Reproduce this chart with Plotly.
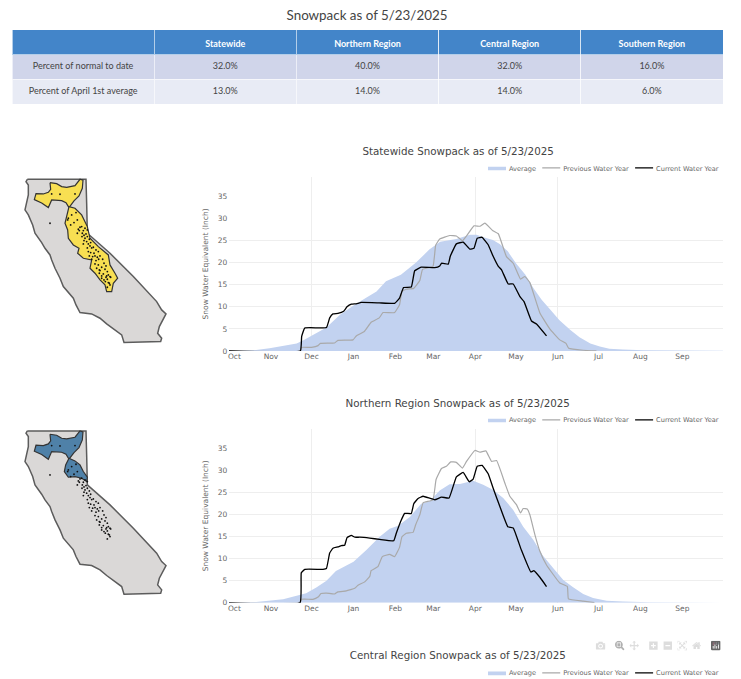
import plotly.graph_objects as go

# page was photographed at 60% of the size plotly laid it out at
SCALE = 0.6
WIDTH = 741
HEIGHT = 692  # a bit taller than the window so the last legend doesn't push the margins

months = ['Oct', 'Nov', 'Dec', 'Jan', 'Feb', 'Mar', 'Apr', 'May', 'Jun', 'Jul', 'Aug', 'Sep']
month_days = [4, 31, 61, 92, 123, 151, 182, 212, 243, 273, 304, 335]
grid_days = [61, 182, 243]
y_ticks = [0, 5, 10, 15, 20, 25, 30, 35]
y_grid = [5, 10, 15, 20, 25]

table_head = ['', 'Statewide', 'Northern Region', 'Central Region', 'Southern Region']
table_rows = ['Percent of normal to date', 'Percent of April 1st average']
table_statewide = ['32.0%', '13.0%']
table_northern = ['40.0%', '14.0%']
table_central = ['32.0%', '14.0%']
table_southern = ['16.0%', '6.0%']

# statewide, x is days since Oct 1
state_avg_days = [0, 20, 30, 40, 50, 55, 61, 72, 82, 92, 101, 109, 116, 127, 138, 148, 156, 168, 178,
                  183, 188, 195, 200, 206, 212, 219, 225, 231, 237, 244, 252, 259, 267, 274, 281, 291, 306, 335, 365]
state_avg = [0, 0.2, 0.6, 1.1, 1.7, 2.4, 3.4, 5.3, 8.2, 10.3, 12, 13.5, 15.8, 17.3, 20, 23, 24.8, 25.4, 26.4,
             26.4, 25.8, 25.2, 24.3, 22.6, 19.9, 17.3, 14.2, 11.6, 9.5, 7, 4.8, 3.1, 1.7, 1, 0.5, 0.3, 0.15, 0.05, 0.03]
state_cur_days = [0, 52.7, 53.7, 56, 72, 74.4, 76.8, 80.5, 84.7, 87.2, 90.4, 94, 97.8, 111, 122.4, 126, 129,
                  134.7, 137.2, 142, 152, 155.7, 157, 162, 163.5, 168, 173, 178, 181, 183.4, 187, 191.5, 195,
                  199, 201.4, 206.3, 210, 215, 218, 223.5, 227.2, 234.6]
state_cur = [0, 0, 3.3, 5.2, 5.3, 7.5, 8.4, 8.5, 9, 10, 10.6, 10.7, 11, 10.9, 10.8, 12, 14.4,
             14.5, 18.2, 19, 18.9, 19.3, 19.9, 19.7, 21.5, 24.3, 24.7, 23.1, 23.3, 25.6, 25.8, 24.1, 21.6,
             19.2, 18.4, 15.2, 15.2, 12.3, 11.2, 6.8, 6.1, 3.4]
state_prev_days = [0, 52.7, 53.5, 61, 65.8, 67.5, 78, 80.5, 91.6, 94, 100, 105, 111, 113.8, 122.4, 126, 127.8,
                   131, 136.5, 141, 143, 150.7, 152.7, 155.7, 163, 168, 172.5, 175.5, 181, 185.4, 189, 195,
                   199, 205, 210, 215.4, 218.6, 222.3, 229.7, 237, 244.4, 249, 251, 261.7, 271.5]
state_prev = [0, 0, 0.8, 0.8, 1.2, 1.7, 1.8, 2.4, 2.5, 3.4, 4.4, 6.5, 7.5, 8.7, 8.7, 10.5, 13.5,
              14, 14.2, 16, 18.5, 19.2, 24, 25.4, 26.2, 26.1, 25, 26.1, 28.4, 28.3, 29, 27.3,
              26.6, 21.4, 19.9, 16.3, 16.9, 15.5, 8.6, 5, 2.5, 1.7, 0.6, 0.15, 0]

# northern region
north_avg_days = [0, 20, 40, 50, 57, 64.5, 72, 79, 92, 101.5, 111.3, 118.7, 125, 133.6, 142, 148, 155.7, 163, 170.6,
                  180.4, 187.8, 195, 202.6, 210, 217.4, 224.8, 232, 239.5, 247, 254, 261.7, 269, 279, 291, 311, 365]
north_avg = [0, 0.2, 0.8, 1.6, 2.2, 3.5, 5, 7.2, 9.3, 12, 15, 16.8, 17.5, 19.5, 22.5, 23, 25.5, 26.9, 27,
             27.7, 26.8, 25.7, 23.8, 21.1, 17.3, 14.3, 10.7, 7.9, 5.2, 3.6, 2, 1.1, 0.5, 0.3, 0.15, 0.03]
north_cur_days = [0, 52.5, 53.4, 56, 69.5, 72, 74.4, 76.8, 80.5, 83, 85.5, 87.2, 90.4, 93, 96.6, 104, 111.3, 121.7,
                  123.6, 127.3, 129.8, 134.7, 136.5, 139.7, 143.4, 152, 157, 162.6, 168, 173, 177.5, 180.4,
                  183.4, 187, 191.5, 195.2, 200, 206, 210, 216, 223, 225.2, 229.7, 234.6]
north_cur = [0, 0, 6.8, 7.6, 7.6, 7.8, 11.3, 12.4, 12.7, 13, 13.1, 14.8, 15.3, 14.9, 14.9, 14.7, 14.4, 14.1,
             15.8, 18.8, 20.3, 20.3, 22.5, 23.7, 24.2, 23.4, 24, 23.8, 28.6, 29.6, 27.5, 28.1,
             31, 31.2, 29.3, 26, 22, 17.3, 17, 12, 7, 7.3, 5.8, 3.7]
north_prev_days = [0, 52.5, 53.4, 62, 65.8, 68, 72, 78, 80.5, 86.7, 92.9, 95.3, 100, 104, 105, 110, 113.3, 118.7,
                   122.4, 126, 127.8, 131, 136, 138, 141, 143.4, 150.7, 153, 157, 160.6, 163.8, 168, 172.5, 175.5,
                   181.7, 185.4, 189.8, 194, 197.7, 203.8, 207.5, 212.4, 215.4, 217.4, 220.3, 222.3, 226, 229.7,
                   234.6, 244.4, 250, 250.8, 261.7, 270]
north_prev = [0, 0, 0.8, 0.8, 1.3, 2.1, 2.2, 2, 2.5, 2.7, 3.3, 4, 4.7, 6, 7.3, 8.2, 10.5, 11,
              10.5, 12.6, 15, 15.8, 16, 17.8, 20, 22.7, 23.4, 28, 30.5, 31, 32, 31.9, 30.6, 32.1,
              34.6, 34.2, 34.5, 32.1, 32.3, 27.2, 24.2, 22.3, 20.4, 21.4, 21.3, 20, 15.5, 11.7,
              8.6, 4.5, 3.7, 0.9, 0.4, 0.05]

# map outlines and stations, units are 3x the page pixels from the map box corner
ca_x = [82, 258, 260, 262, 262, 330, 400, 470, 485, 498, 478, 473, 485, 482, 372, 365, 345, 320, 300, 275, 240, 228,
        220, 190, 180, 165, 155, 150, 135, 125, 105, 98, 85, 75, 85, 85, 78, 82]
ca_y = [28, 28, 100, 175, 190, 250, 320, 395, 420, 432, 470, 490, 505, 515, 518, 495, 480, 462, 445, 432, 428, 405,
        385, 350, 325, 295, 270, 255, 235, 218, 190, 165, 135, 120, 75, 45, 35, 28]
klamath_x = [150, 170, 185, 200, 225, 240, 249, 247, 237, 222, 207, 198, 185, 165, 155, 145, 125, 103, 108, 130, 145,
             152, 150]
klamath_y = [38, 41, 50, 52, 47, 28, 31, 55, 78, 93, 113, 98, 92, 90, 90, 113, 99, 89, 71, 72, 67, 58, 38]
feather_x = [207, 225, 240, 250, 262, 260, 245, 225, 205, 193, 197, 207]
feather_y = [110, 118, 130, 150, 167, 180, 170, 165, 167, 150, 130, 110]
sierra_x = [207, 225, 245, 255, 262, 270, 295, 325, 330, 345, 353, 340, 335, 320, 315, 300, 285, 270, 275, 250, 233,
            237, 220, 205, 203, 195, 200, 207]
sierra_y = [110, 115, 135, 155, 170, 205, 230, 255, 285, 310, 325, 340, 365, 365, 345, 330, 310, 295, 270, 265, 250,
            235, 225, 205, 180, 160, 140, 110]
station_x = [180, 225, 155, 150, 205, 215, 228, 232, 222, 203, 212, 240, 235, 245, 238, 250, 255, 262, 232, 247, 252,
             258, 246, 255, 262, 268, 252, 260, 265, 272, 250, 270, 262, 275, 280, 288, 265, 272, 282, 295, 268, 278,
             285, 292, 300, 275, 288, 296, 308, 285, 295, 312, 318, 305, 290, 300, 315, 322, 298, 310, 325, 330, 318,
             305, 322, 332, 316, 325, 330, 322, 328, 312, 320, 305, 298]
station_y = [73, 72, 72, 160, 145, 135, 128, 150, 158, 150, 165, 172, 178, 170, 182, 182, 175, 180, 190, 190, 196,
             192, 200, 205, 200, 208, 212, 215, 222, 218, 222, 228, 234, 234, 232, 240, 245, 248, 250, 245, 258, 260,
             258, 262, 258, 268, 272, 268, 268, 282, 285, 280, 288, 292, 295, 302, 298, 305, 310, 312, 315, 320, 322,
             325, 328, 322, 335, 338, 345, 352, 340, 330, 318, 318, 300]


def paper_x(px):
    return px / WIDTH


def paper_y(py):
    return 1 - py / HEIGHT


fig = go.Figure()

fig.add_trace(go.Table(
    domain=dict(x=[paper_x(12), paper_x(723)], y=[paper_y(105), paper_y(30)]),
    header=dict(values=[f'<b>{h}</b>' for h in table_head], height=41, fill_color='#4385c9',
                line_color='white', font=dict(family='Lato', size=15, color='white')),
    cells=dict(values=[table_rows, table_statewide, table_northern, table_central, table_southern],
               height=41.5, fill_color=[['#d0d5ea', '#e8ebf5']], line_color='white',
               font=dict(family='Lato', size=15, color='#444444')),
))


def add_chart(xaxis, yaxis, legend, avg_days, avg, prev_days, prev, cur_days, cur):
    fig.add_trace(go.Scatter(x=avg_days, y=avg, name='Average', mode='lines', fill='tozeroy', fillcolor='#c2d2f0',
                             line=dict(width=0, color='#c2d2f0'), xaxis=xaxis, yaxis=yaxis, legend=legend))
    fig.add_trace(go.Scatter(x=prev_days, y=prev, name='Previous Water Year', mode='lines', cliponaxis=False,
                             line=dict(width=2, color='#a9a9a9', shape='spline', smoothing=0.3),
                             xaxis=xaxis, yaxis=yaxis, legend=legend))
    fig.add_trace(go.Scatter(x=cur_days, y=cur, name='Current Water Year', mode='lines', cliponaxis=False,
                             line=dict(width=2.2, color='black', shape='spline', smoothing=0.3),
                             xaxis=xaxis, yaxis=yaxis, legend=legend))


add_chart('x', 'y', 'legend', state_avg_days, state_avg, state_prev_days, state_prev, state_cur_days, state_cur)
add_chart('x2', 'y2', 'legend2', north_avg_days, north_avg, north_prev_days, north_prev, north_cur_days, north_cur)
# central chart is cut off by the window, only its legend shows
add_chart('x', 'y', 'legend3', [None], [None], [None], [None], [None], [None])


def add_map(xaxis, yaxis, regions, color):
    fig.add_trace(go.Scatter(x=ca_x, y=ca_y, mode='lines', fill='toself', fillcolor='#dad8d7', showlegend=False,
                             line=dict(width=2.5, color='#5c5c5c'), xaxis=xaxis, yaxis=yaxis))
    for rx, ry in regions:
        fig.add_trace(go.Scatter(x=rx, y=ry, mode='lines', fill='toself', fillcolor=color, showlegend=False,
                                 line=dict(width=2, color='#333333'), xaxis=xaxis, yaxis=yaxis))
    fig.add_trace(go.Scatter(x=station_x, y=station_y, mode='markers', showlegend=False,
                             marker=dict(size=3, color='#111111'), xaxis=xaxis, yaxis=yaxis))


add_map('x3', 'y3', [(klamath_x, klamath_y), (sierra_x, sierra_y)], '#f8df52')
add_map('x4', 'y4', [(klamath_x, klamath_y), (feather_x, feather_y)], '#4f81a8')

tick_font = dict(family='DejaVu Sans', size=12.5, color='#666666')


def chart_x(anchor):
    return dict(domain=[paper_x(229), paper_x(723)], range=[0, 365], anchor=anchor, automargin=False,
                tickmode='array', tickvals=month_days, ticktext=months, tickfont=tick_font,
                showgrid=False, zeroline=False,
                minor=dict(tickmode='array', tickvals=grid_days, showgrid=True, gridcolor='#eeeeee', gridwidth=1.5))


def chart_y(anchor, bottom):
    top = bottom - 174
    return dict(domain=[paper_y(bottom), paper_y(top)], range=[0, 39.5], anchor=anchor, automargin=False,
                tickmode='array', tickvals=y_ticks, tickfont=tick_font, ticklabelstandoff=2,
                showgrid=False, zeroline=False,
                title=dict(text='Snow Water Equivalent (Inch)', standoff=12,
                           font=dict(family='DejaVu Sans', size=12.5, color='#666666')),
                minor=dict(tickmode='array', tickvals=y_grid, showgrid=True, gridcolor='#eeeeee', gridwidth=1.5))


def map_axes(anchor, x0, y0):
    hidden = dict(visible=False, anchor=anchor, automargin=False)
    return (dict(domain=[paper_x(x0), paper_x(x0 + 190)], range=[0, 570], **hidden),
            dict(domain=[paper_y(y0 + 190), paper_y(y0)], range=[570, 0], **hidden))


def legend_at(py):
    return dict(orientation='h', x=paper_x(722), xanchor='right', y=paper_y(py), yanchor='middle',
                font=dict(family='DejaVu Sans', size=11, color='#666666'), bgcolor='rgba(0,0,0,0)')


def chart_title(text, py):
    return dict(text=text, x=paper_x(458), y=paper_y(py), xref='paper', yref='paper', yanchor='middle',
                showarrow=False, font=dict(family='DejaVu Sans', size=17.2, color='#444444'))


map1_x, map1_y = map_axes('y3', 0, 170)
map2_x, map2_y = map_axes('y4', 0, 421.7)

fig.update_layout(
    width=WIDTH / SCALE,
    height=HEIGHT / SCALE,
    margin=dict(l=0, r=0, t=0, b=0),
    paper_bgcolor='white',
    plot_bgcolor='rgba(0,0,0,0)',
    modebar=dict(color='rgba(68,68,68,0.3)', activecolor='rgba(68,68,68,0.7)'),
    title=dict(text='Snowpack as of 5/23/2025', x=paper_x(367), xanchor='center', y=paper_y(15), yanchor='middle',
               font=dict(family='Lato', size=22.3, color='#444444')),
    xaxis=chart_x('y'),
    yaxis=chart_y('x', 351),
    xaxis2=chart_x('y2'),
    yaxis2=chart_y('x2', 603),
    xaxis3=map1_x,
    yaxis3=map1_y,
    xaxis4=map2_x,
    yaxis4=map2_y,
    legend=legend_at(168),
    legend2=legend_at(420),
    legend3=legend_at(673),
    annotations=[
        chart_title('Statewide Snowpack as of 5/23/2025', 152),
        chart_title('Northern Region Snowpack as of 5/23/2025', 404),
        chart_title('Central Region Snowpack as of 5/23/2025', 656),
    ],
)

# shrink after plotly has finished measuring text, put the modebar where the cut-off chart had it,
# and centre the table text, which plotly hangs from the top of the cell
post = """
var gd = document.getElementById('{plot_id}');
document.body.style.margin = '0';
document.body.style.overflow = 'hidden';
gd.style.transformOrigin = '0 0';
gd.style.transform = 'scale(%s)';
setTimeout(function () {
    var bar = gd.querySelector('.modebar-container');
    if (bar) {
        bar.style.top = '%dpx';
        bar.style.right = '%dpx';
        bar.style.opacity = '0.6';
    }
    gd.querySelectorAll('.cell-text').forEach(function (t) {
        t.style.transform = 'translateY(5px)';
    });
}, 50);
""" % (SCALE, 1063, 28)

fig.write_html('out.html', post_script=post, config=dict(
    displayModeBar=True, modeBarButtonsToRemove=['select2d', 'lasso2d']))
